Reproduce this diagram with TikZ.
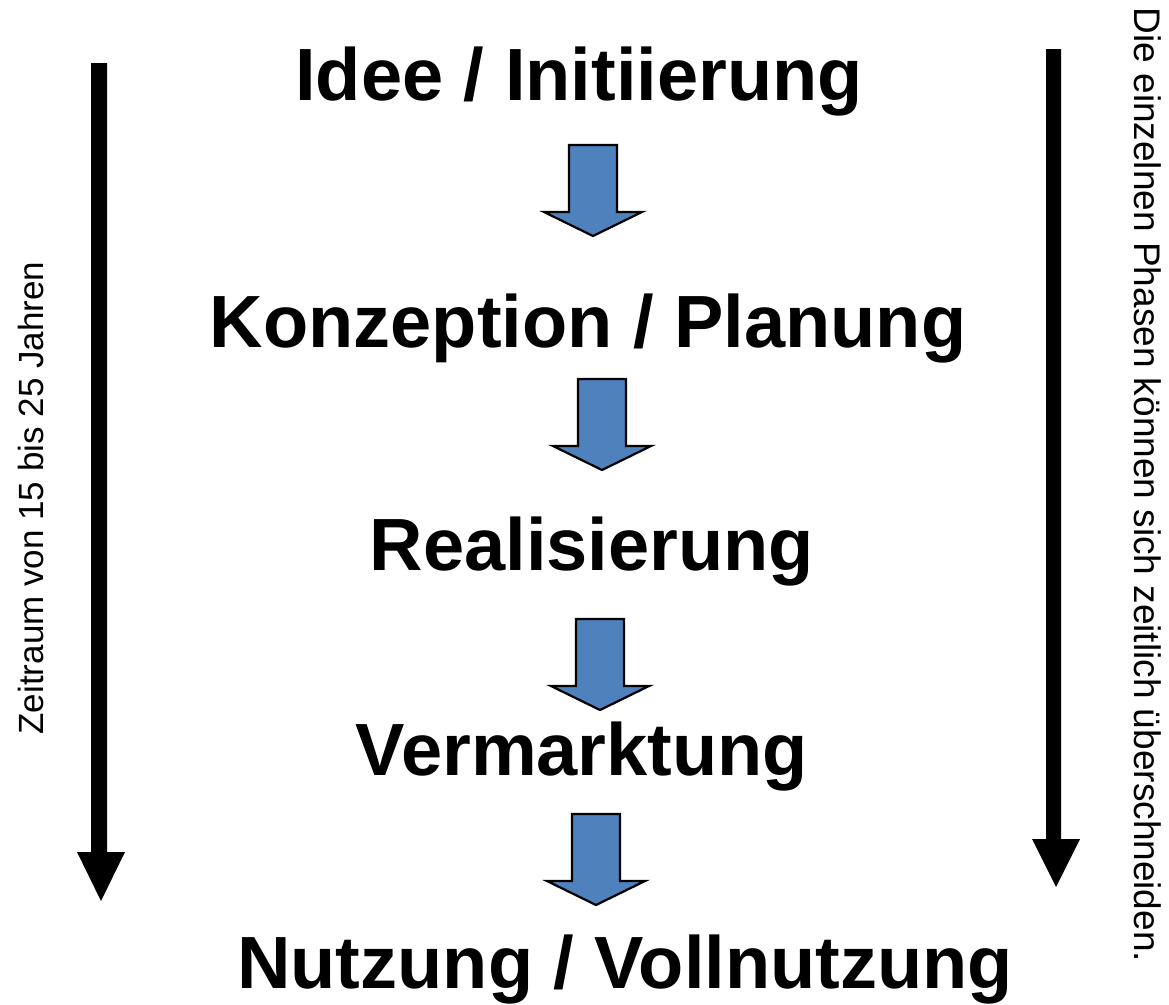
\documentclass[tikz,border=0pt]{standalone}
\usepackage{fontspec}
\setmainfont{Liberation Sans}
\definecolor{officeblue}{HTML}{4F81BD}
\tikzset{
  phase/.style={anchor=base, inner sep=0pt, font=\fontsize{74}{80}\selectfont\bfseries},
  sidetext/.style={anchor=base, inner sep=0pt, font=\fontsize{35}{40}\selectfont},
  blockarrow/.style={fill=officeblue, draw=black, line width=2.2pt, line join=miter},
  timearrow/.style={fill=black, draw=none},
  pics/downarrow/.style={code={
    \path[blockarrow] (-24,0) -- (24,0) -- (24,67) -- (49,67) -- (0,91) -- (-49,67) -- (-24,67) -- cycle;
  }}
}
\begin{document}
\begin{tikzpicture}[x=1pt,y=-1pt]
\useasboundingbox (0,0) rectangle (1169,1004);
\fill[white] (0,0) rectangle (1169,1004);

% phase titles
\node[phase] (idee) at (579,100) {Idee / Initiierung};
\node[phase] (konz) at (588,347) {Konzeption / Planung};
\node[phase] (real) at (592,570) {Realisierung};
\node[phase] (verm) at (582,775) {Vermarktung};
\node[phase] (nutz) at (625,988) {Nutzung / Vollnutzung};

% block arrows between phases
\pic (a1) at (593,145) {downarrow};
\pic (a2) at (602,379) {downarrow};
\pic (a3) at (600,619) {downarrow};
\pic (a4) at (596,814) {downarrow};

% left time arrow
\path[timearrow] (91,63) -- (107,63) -- (107,852) -- (125,852) -- (101,901) -- (77,852) -- (91,852) -- cycle;
% right time arrow
\path[timearrow] (1046,49) -- (1061,49) -- (1061,839) -- (1080,839) -- (1056,887) -- (1032,839) -- (1046,839) -- cycle;

% side texts
\node[sidetext, rotate=90] (zeit) at (43,498) {Zeitraum von 15 bis 25 Jahren};
\node[sidetext, rotate=-90, font=\fontsize{37}{40}\selectfont] (phasen) at (1134,485) {Die einzelnen Phasen können sich zeitlich überschneiden.};
\end{tikzpicture}
\end{document}
